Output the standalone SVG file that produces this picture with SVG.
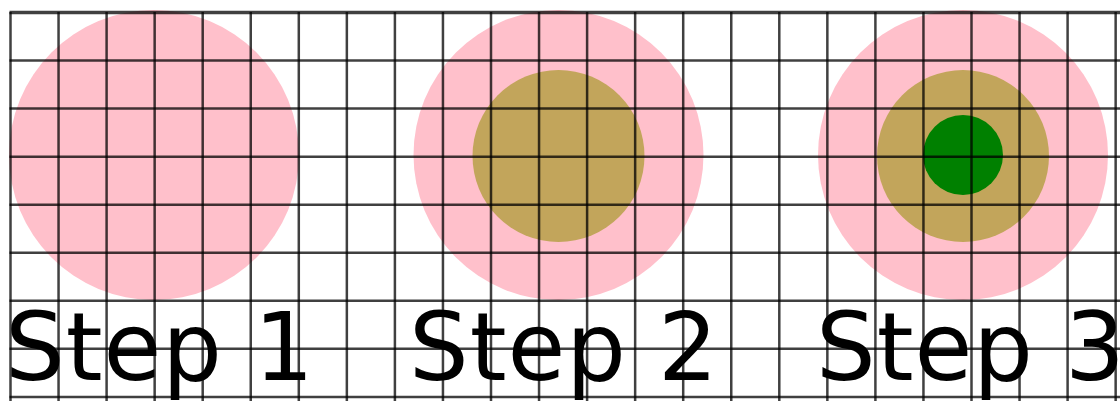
<svg xmlns="http://www.w3.org/2000/svg" width="1120" height="401" viewBox="0 0 1120 401">
<style>
.pink{fill:#ffc0cb}
.olive{fill:#c2a55b}
.green{fill:#008000}
.lbl{font-family:"DejaVu Sans",sans-serif;font-size:94px;letter-spacing:1px;fill:#000}
.grid line{stroke:#000;stroke-width:2.5;stroke-opacity:0.75}
</style>
<rect width="1120" height="401" fill="#fff"/>
<g id="step1">
<circle class="pink" cx="154" cy="155" r="145"/>
<text class="lbl" x="5" y="380">Step 1</text>
</g>
<g id="step2">
<circle class="pink" cx="558.5" cy="155" r="145"/>
<circle class="olive" cx="558.5" cy="156" r="86"/>
<text class="lbl" x="409" y="380">Step 2</text>
</g>
<g id="step3">
<circle class="pink" cx="963" cy="155" r="145"/>
<circle class="olive" cx="963" cy="156" r="86"/>
<circle class="green" cx="963" cy="155" r="40"/>
<text class="lbl" x="816" y="380">Step 3</text>
</g>
<g class="grid" id="grid">
<line x1="10.5" y1="12" x2="10.5" y2="401"/>
<line x1="58.55" y1="12" x2="58.55" y2="401"/>
<line x1="106.6" y1="12" x2="106.6" y2="401"/>
<line x1="154.65" y1="12" x2="154.65" y2="401"/>
<line x1="202.7" y1="12" x2="202.7" y2="401"/>
<line x1="250.75" y1="12" x2="250.75" y2="401"/>
<line x1="298.8" y1="12" x2="298.8" y2="401"/>
<line x1="346.85" y1="12" x2="346.85" y2="401"/>
<line x1="394.9" y1="12" x2="394.9" y2="401"/>
<line x1="442.95" y1="12" x2="442.95" y2="401"/>
<line x1="491" y1="12" x2="491" y2="401"/>
<line x1="539.05" y1="12" x2="539.05" y2="401"/>
<line x1="587.1" y1="12" x2="587.1" y2="401"/>
<line x1="635.15" y1="12" x2="635.15" y2="401"/>
<line x1="683.2" y1="12" x2="683.2" y2="401"/>
<line x1="731.25" y1="12" x2="731.25" y2="401"/>
<line x1="779.3" y1="12" x2="779.3" y2="401"/>
<line x1="827.35" y1="12" x2="827.35" y2="401"/>
<line x1="875.4" y1="12" x2="875.4" y2="401"/>
<line x1="923.45" y1="12" x2="923.45" y2="401"/>
<line x1="971.5" y1="12" x2="971.5" y2="401"/>
<line x1="1019.55" y1="12" x2="1019.55" y2="401"/>
<line x1="1067.6" y1="12" x2="1067.6" y2="401"/>
<line x1="1115.65" y1="12" x2="1115.65" y2="401"/>
<line x1="9.5" y1="12.5" x2="1120" y2="12.5" style="stroke-width:3.5"/>
<line x1="9.5" y1="60.55" x2="1120" y2="60.55"/>
<line x1="9.5" y1="108.6" x2="1120" y2="108.6"/>
<line x1="9.5" y1="156.65" x2="1120" y2="156.65"/>
<line x1="9.5" y1="204.7" x2="1120" y2="204.7"/>
<line x1="9.5" y1="252.75" x2="1120" y2="252.75"/>
<line x1="9.5" y1="300.8" x2="1120" y2="300.8"/>
<line x1="9.5" y1="348.85" x2="1120" y2="348.85"/>
<line x1="9.5" y1="396.9" x2="1120" y2="396.9"/>
</g>
</svg>
